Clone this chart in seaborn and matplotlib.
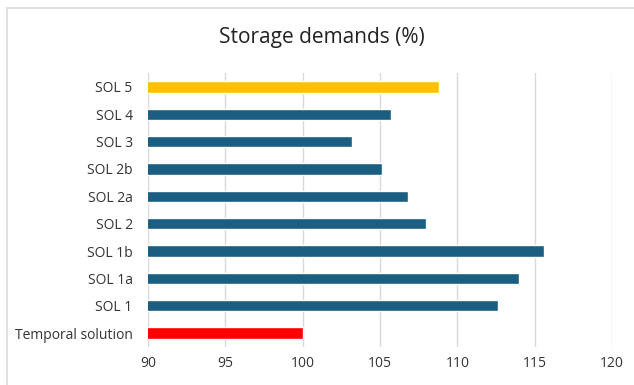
import matplotlib
matplotlib.use("Agg")
import matplotlib.pyplot as plt
from matplotlib.lines import Line2D
import seaborn as sns
import pandas as pd

categories = ["SOL 5", "SOL 4", "SOL 3", "SOL 2b", "SOL 2a",
              "SOL 2", "SOL 1b", "SOL 1a", "SOL 1", "Temporal solution"]
values = [108.8, 105.7, 103.2, 105.1, 106.8, 108.0, 115.6, 114.0, 112.6, 100.0]
groups = ["new", "sol", "sol", "sol", "sol", "sol", "sol", "sol", "sol", "base"]
palette = {"new": "#FFC000", "sol": "#1A5F82", "base": "#FF0000"}
x_ticks = [90, 95, 100, 105, 110, 115, 120]

df = pd.DataFrame({"solution": categories, "demand": values, "group": groups})

sns.set_theme(style="white")
plt.rcParams["font.family"] = ["Open Sans", "DejaVu Sans"]

fig = plt.figure(figsize=(6.34, 3.85), dpi=100)
ax = fig.add_axes([148 / 634, 1 - 346.7 / 385, (612 - 148) / 634, (346.7 - 73.3) / 385])

sns.barplot(data=df, y="solution", x="demand", hue="group", palette=palette,
            order=categories, orient="h", width=0.42, dodge=False,
            saturation=1, legend=False, ax=ax)

ax.set_xlim(90, 120)
ax.set_xticks(x_ticks)
ax.set_xlabel("")
ax.set_ylabel("")
ax.grid(axis="x", color="#D9D9D9", linewidth=1.0)
ax.set_axisbelow(True)
for s in ax.spines.values():
    s.set_visible(False)
ax.tick_params(axis="both", length=0, labelsize=10, labelcolor="#333333")
ax.tick_params(axis="x", pad=7)
ax.tick_params(axis="y", pad=11)

fig.text(0.5 + 5 / 634, 1 - 38 / 385, "Storage demands (%)", ha="center", va="center",
         fontsize=15, color="#222222")

# thin chart-area frame along the top and left edges
fig.add_artist(Line2D([7 / 634, 1.0], [1 - 8 / 385, 1 - 8 / 385], color="#DDDDDD",
                      linewidth=1.2, transform=fig.transFigure))
fig.add_artist(Line2D([7 / 634, 7 / 634], [1 - 8 / 385, 0.0], color="#DDDDDD",
                      linewidth=1.2, transform=fig.transFigure))

fig.savefig("out.png", dpi=100, facecolor="white")
